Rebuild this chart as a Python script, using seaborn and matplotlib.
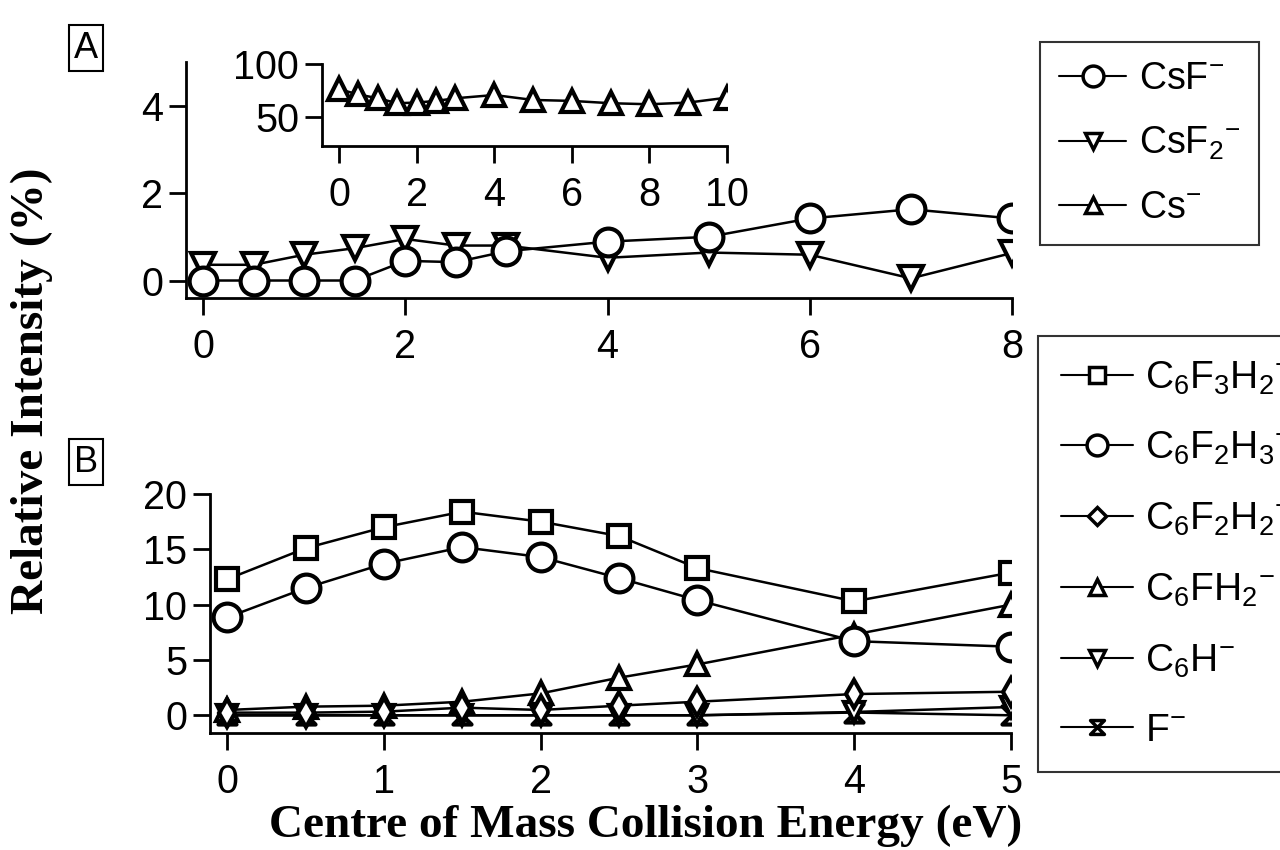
import numpy as np
import pandas as pd
import matplotlib
matplotlib.use("Agg")
import matplotlib.pyplot as plt
from matplotlib.path import Path
from matplotlib.lines import Line2D
import seaborn as sns

sns.set_theme(style="ticks")
plt.rcParams['font.family'] = ['Liberation Sans', 'DejaVu Sans']
plt.rcParams['mathtext.fontset'] = 'custom'
plt.rcParams['mathtext.rm'] = 'Liberation Sans'
plt.rcParams['mathtext.it'] = 'Liberation Sans'
for k in ['text.color', 'axes.labelcolor', 'xtick.color', 'ytick.color', 'axes.edgecolor']:
    plt.rcParams[k] = 'black'

# ---------------- data ----------------
energy_a = [0, 0.5, 1, 1.5, 2, 2.5, 3, 4, 5, 6, 7, 8]
csf = [0, 0, 0, 0, 0.45, 0.42, 0.67, 0.89, 1.0, 1.42, 1.63, 1.42]
csf2 = [0.36, 0.36, 0.59, 0.74, 0.95, 0.80, 0.80, 0.52, 0.64, 0.59, 0.05, 0.63]

energy_inset = [0, 0.5, 1, 1.5, 2, 2.5, 3, 4, 5, 6, 7, 8, 9, 10]
cs = [76, 71, 67.4, 62.7, 63.3, 64.9, 67.4, 70.5, 65.8, 64.9, 62.7, 61.7, 63.3, 68]

energy_b = [0, 0.5, 1, 1.5, 2, 2.5, 3, 4, 5]
c6f3h2 = [12.3, 15.1, 17.0, 18.4, 17.5, 16.2, 13.3, 10.3, 12.9]
c6f2h3 = [8.85, 11.5, 13.7, 15.2, 14.3, 12.4, 10.4, 6.7, 6.2]
c6f2h2 = [0.24, 0.24, 0.33, 0.69, 0.48, 0.87, 1.23, 1.92, 2.13]
c6fh2 = [0.48, 0.78, 0.87, 1.23, 1.98, 3.4, 4.6, 7.3, 10.0]
c6h = [0, 0, 0, 0, 0, 0, 0, 0.3, 0.75]
f_ion = [0, 0, 0, 0, 0, 0, 0, 0.25, 0.0]

labels_a = [r'$\mathrm{CsF}^{-}$', r'$\mathrm{CsF_2}{}^{-}$', r'$\mathrm{Cs}^{-}$']
labels_b = [r'$\mathrm{C_6F_3H_2}{}^{-}$', r'$\mathrm{C_6F_2H_3}{}^{-}$', r'$\mathrm{C_6F_2H_2}{}^{-}$',
            r'$\mathrm{C_6FH_2}{}^{-}$', r'$\mathrm{C_6H}^{-}$', r'$\mathrm{F}^{-}$']

bowtie = Path([(-1, 1), (1, 1), (-1, -1), (1, -1), (-1, 1)],
              [Path.MOVETO, Path.LINETO, Path.LINETO, Path.LINETO, Path.CLOSEPOLY])

fig = plt.figure(figsize=(12.8, 8.5), dpi=100)
W, H = 1280, 850

def axes_px(l, r, t, b):
    return fig.add_axes([l / W, 1 - b / H, (r - l) / W, (b - t) / H])

ax_a = axes_px(186, 1012, 62, 298)
ax_in = axes_px(322, 727, 64, 146)
ax_b = axes_px(210, 1011, 494, 733)

def style(ax, fs=28.5):
    for s in ['top', 'right']:
        ax.spines[s].set_visible(False)
    for s in ['left', 'bottom']:
        ax.spines[s].set_linewidth(2)
        ax.spines[s].set_color('black')
    ax.tick_params(direction='out', length=12.5, width=2, labelsize=fs, colors='black')
    ax.tick_params(axis='x', pad=9)
    ax.tick_params(axis='y', pad=4)
    ax.set_facecolor('none')
    ax.set_xlabel('')
    ax.set_ylabel('')

def draw(ax, x, y, marker, ms, label, mew=3):
    sns.lineplot(x=x, y=y, ax=ax, color='black', linewidth=1.8, marker=marker,
                 markersize=ms, markerfacecolor='white', markeredgecolor='black',
                 markeredgewidth=mew, label=label, legend=False, zorder=3)

# Panel A
draw(ax_a, energy_a, csf2, 'v', 17, labels_a[1])
draw(ax_a, energy_a, csf, 'o', 20, labels_a[0])
ax_a.set_xlim(-0.17, 8)
ax_a.set_ylim(-0.4, 5)
ax_a.set_xticks([0, 2, 4, 6, 8])
ax_a.set_yticks([0, 2, 4])
style(ax_a)

# Inset
draw(ax_in, energy_inset, cs, '^', 16, labels_a[2])
ax_in.set_xlim(-0.44, 10)
ax_in.set_ylim(22, 100)
ax_in.set_xticks([0, 2, 4, 6, 8, 10])
ax_in.set_yticks([50, 100])
style(ax_in)

# Panel B
draw(ax_b, energy_b, f_ion, bowtie, 13, labels_b[5])
draw(ax_b, energy_b, c6h, 'v', 15, labels_b[4])
draw(ax_b, energy_b, c6fh2, '^', 16, labels_b[3])
draw(ax_b, energy_b, c6f2h2, 'd', 14, labels_b[2])
draw(ax_b, energy_b, c6f2h3, 'o', 20, labels_b[1])
draw(ax_b, energy_b, c6f3h2, 's', 16, labels_b[0])
ax_b.set_xlim(-0.11, 5)
ax_b.set_ylim(-1.6, 20)
ax_b.set_xticks([0, 1, 2, 3, 4, 5])
ax_b.set_yticks([0, 5, 10, 15, 20])
style(ax_b)

# Legends
def handle(marker, ms):
    return Line2D([], [], color='black', linewidth=1.5, marker=marker, markersize=ms,
                  markerfacecolor='white', markeredgecolor='black', markeredgewidth=2.5)

hA = [handle('o', 15), handle('v', 11), handle('^', 11)]
legA = fig.legend(hA, labels_a, loc='upper left', bbox_to_anchor=(1040 / W, 1 - 42 / H),
                  frameon=True, fancybox=False, fontsize=27, handlelength=1.8,
                  labelspacing=0.75, borderpad=0.5, handletextpad=0.35, borderaxespad=0)
legA.get_frame().set_edgecolor('black')
legA.get_frame().set_linewidth(1.5)

hB = [handle('s', 12), handle('o', 15), handle('D', 9), handle('^', 11), handle('v', 11), handle(bowtie, 10)]
legB = fig.legend(hB, labels_b, loc='upper left', bbox_to_anchor=(1038 / W, 1 - 336 / H),
                  frameon=True, fancybox=False, fontsize=28, handlelength=1.85,
                  labelspacing=0.86, borderpad=0.6, handletextpad=0.3, borderaxespad=0)
legB.get_frame().set_edgecolor('black')
legB.get_frame().set_linewidth(1.5)

# Panel letters
boxprops = dict(boxstyle='square,pad=0.15', facecolor='white', edgecolor='black', linewidth=1.5)
fig.text(86 / W, 1 - 48 / H, 'A', fontsize=26, ha='center', va='center', bbox=boxprops)
fig.text(86 / W, 1 - 462 / H, 'B', fontsize=26, ha='center', va='center', bbox=boxprops)

# Axis labels
fig.text(32 / W, 1 - 391 / H, 'Relative Intensity (%)', rotation=90, ha='center', va='center',
         fontsize=34, fontweight='bold', family=['Liberation Serif'])
fig.text(646 / W, 1 - 837 / H, 'Centre of Mass Collision Energy (eV)', ha='center', va='baseline',
         fontsize=34, fontweight='bold', family=['Liberation Serif'])

fig.savefig('out.png', dpi=100)
